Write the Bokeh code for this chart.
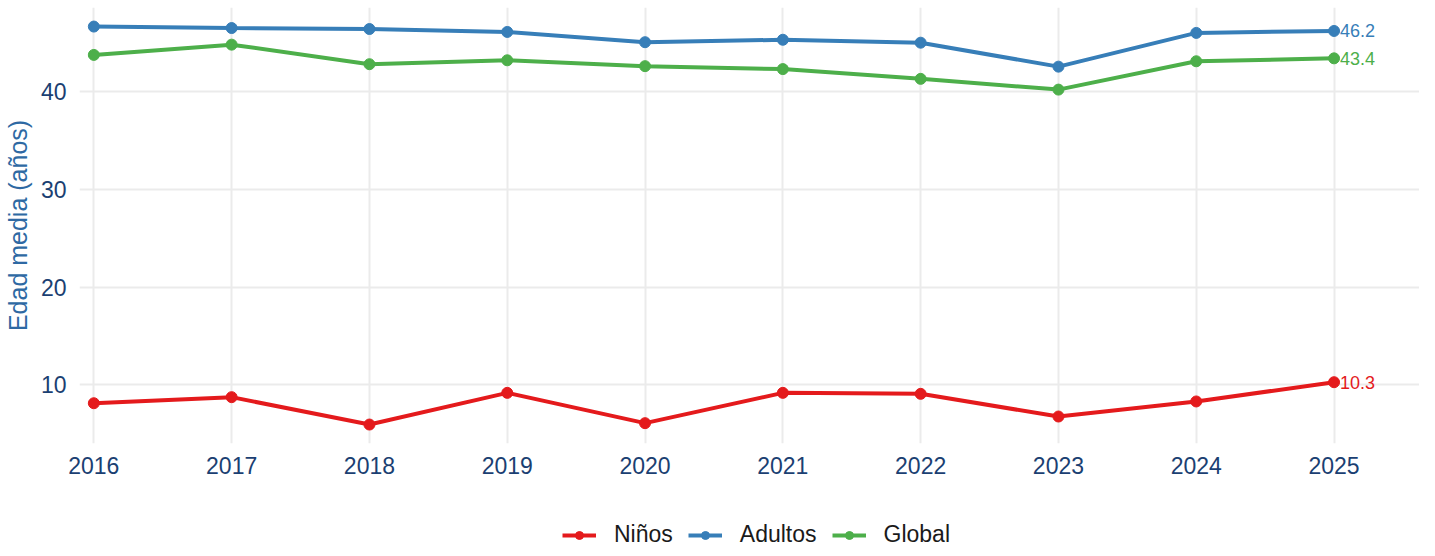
from bokeh.plotting import figure
from bokeh.layouts import column
from bokeh.models import Range1d, FixedTicker, Legend, LegendItem
from bokeh.embed import file_html
from bokeh.resources import INLINE
from bokeh.core.properties import value

years = [2016, 2017, 2018, 2019, 2020, 2021, 2022, 2023, 2024, 2025]
ninos = [8.12, 8.74, 5.94, 9.18, 6.08, 9.18, 9.08, 6.76, 8.30, 10.27]
adultos = [46.65, 46.5, 46.4, 46.1, 45.05, 45.3, 45.0, 42.55, 46.0, 46.2]
global_ = [43.75, 44.8, 42.8, 43.2, 42.6, 42.3, 41.3, 40.2, 43.1, 43.4]

series_names = ["Niños", "Adultos", "Global"]
series_values = [ninos, adultos, global_]
series_colors = ["#E41A1C", "#377EB8", "#4DAF4A"]
y_ticks = [10, 20, 30, 40]
y_title = "Edad media (años)"

FONT = "Liberation Sans"
TICK_COLOR = "#1B3F72"
TITLE_COLOR = "#2E69A3"

# main chart
p = figure(width=1419, height=487, output_backend="svg", toolbar_location=None,
           x_range=Range1d(2015.896, 2025.62), y_range=Range1d(4.0, 48.6),
           min_border_left=72, min_border_right=0, min_border_top=7, min_border_bottom=44)
p.outline_line_color = None
p.background_fill_color = "white"
p.border_fill_color = "white"

p.xgrid.grid_line_color = "#EBEBEB"
p.ygrid.grid_line_color = "#EBEBEB"
p.xgrid.grid_line_width = 2
p.ygrid.grid_line_width = 2
p.xaxis.ticker = FixedTicker(ticks=years)
p.yaxis.ticker = FixedTicker(ticks=y_ticks)
p.xgrid.ticker = FixedTicker(ticks=years)
p.ygrid.ticker = FixedTicker(ticks=y_ticks)

for ax in (p.xaxis, p.yaxis):
    ax.axis_line_color = None
    ax.major_tick_line_color = None
    ax.minor_tick_line_color = None
    ax.major_tick_out = 0
    ax.major_tick_in = 0
    ax.major_label_text_font = FONT
    ax.major_label_text_font_size = "23px"
    ax.major_label_text_color = TICK_COLOR

p.xaxis.major_label_standoff = 13

p.yaxis.major_label_standoff = 13
p.yaxis.axis_label = y_title
p.yaxis.axis_label_text_font = FONT
p.yaxis.axis_label_text_font_size = "25px"
p.yaxis.axis_label_text_font_style = "normal"
p.yaxis.axis_label_text_color = TITLE_COLOR
p.yaxis.axis_label_standoff = 6

# legend strip below the chart (same series, drawn out of view; only the legend shows)
p2 = figure(width=1419, height=61, output_backend="svg", toolbar_location=None,
            x_range=Range1d(0, 1), y_range=Range1d(0, 1),
            x_axis_location=None, y_axis_location=None,
            min_border_left=0, min_border_right=0, min_border_top=0, min_border_bottom=0)
p2.outline_line_color = None
p2.grid.grid_line_color = None
p2.background_fill_color = "white"
p2.border_fill_color = "white"

items = []
for name, vals, col in zip(series_names, series_values, series_colors):
    p.line(years, vals, line_color=col, line_width=4)
    p.scatter(years, vals, size=11, fill_color=col, line_color=col)
    p.text(x=[years[-1]], y=[vals[-1]], text=[f"{vals[-1]:.1f}"], x_offset=6,
           text_baseline="middle", text_align="left", text_font_size="18px",
           text_color=col, text_font=value(FONT))
    l2 = p2.line(years, vals, line_color=col, line_width=4)
    s2 = p2.scatter(years, vals, size=11, fill_color=col, line_color=col)
    items.append(LegendItem(label=name, renderers=[l2, s2]))

legend = Legend(items=items, orientation="horizontal", location=(483, 0),
                label_text_font=FONT, label_text_font_size="23px", label_text_color="#1A1A1A",
                glyph_width=34, label_standoff=18, spacing=15, padding=2, margin=0,
                border_line_color=None, background_fill_alpha=0)
p2.add_layout(legend, "center")

layout = column(p, p2, spacing=0)
open("out.html", "w").write(file_html(layout, INLINE))
